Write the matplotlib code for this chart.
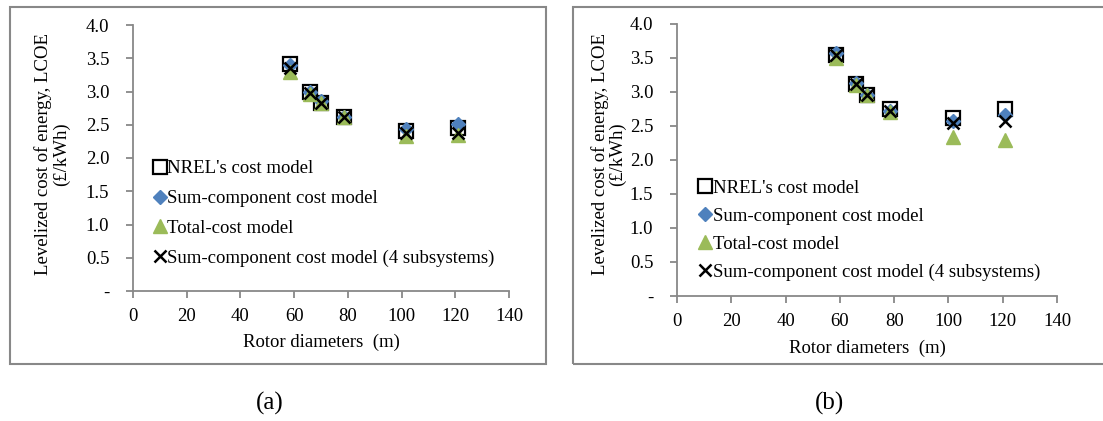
import numpy as np
import matplotlib.pyplot as plt
from matplotlib.patches import Rectangle

plt.rcParams['font.family'] = ['Liberation Serif', 'DejaVu Serif']

# rotor diameters (m)
rotor_d = [58.5, 66, 70, 78.5, 101.5, 121]

# (a) LCOE values (£/kWh)
nrel_a = [3.41, 2.99, 2.83, 2.61, 2.40, 2.45]
sumcomp_a = [3.40, 3.00, 2.85, 2.62, 2.43, 2.51]
total_a = [3.30, 2.96, 2.82, 2.62, 2.33, 2.34]
sub4_a = [3.35, 2.98, 2.83, 2.62, 2.38, 2.38]

# (b) LCOE values (£/kWh)
nrel_b = [3.55, 3.12, 2.96, 2.75, 2.62, 2.75]
sumcomp_b = [3.58, 3.13, 2.96, 2.72, 2.57, 2.66]
total_b = [3.50, 3.11, 2.95, 2.70, 2.34, 2.30]
sub4_b = [3.55, 3.12, 2.96, 2.72, 2.54, 2.57]

labels = ["NREL's cost model", "Sum-component cost model",
          "Total-cost model", "Sum-component cost model (4 subsystems)"]
xticks = [0, 20, 40, 60, 80, 100, 120, 140]
yticks = [0, 0.5, 1.0, 1.5, 2.0, 2.5, 3.0, 3.5, 4.0]
ytick_labels = ['-', '0.5', '1.0', '1.5', '2.0', '2.5', '3.0', '3.5', '4.0']

W, H = 1103, 421
fig = plt.figure(figsize=(W / 100, H / 100), dpi=100)

gray = '#888888'
fs = 13.5


def panel(rect, frame, nrel, sumcomp, total, sub4, leg_anchor, leg_space,
          ylab_xy, xlab_y, caption_x, caption):
    l, t, w, h = rect
    # panel border
    fx0, fy0, fx1, fy1 = frame
    fig.patches.append(Rectangle((fx0 / W, 1 - fy1 / H), (fx1 - fx0) / W, (fy1 - fy0) / H,
                                 transform=fig.transFigure, fill=False,
                                 edgecolor=gray, linewidth=1.5))
    ax = fig.add_axes([l / W, 1 - (t + h) / H, w / W, h / H])
    ax.plot(rotor_d, nrel, 's', ms=10.5, mfc='none', mec='black', mew=1.6, label=labels[0])
    ax.plot(rotor_d, sumcomp, 'D', ms=7.5, color='#4F81BD', label=labels[1])
    ax.plot(rotor_d, total, '^', ms=10, color='#9BBB59', label=labels[2])
    ax.plot(rotor_d, sub4, 'x', ms=9, mew=1.8, color='black', label=labels[3])
    ax.set_xlim(0, 140)
    ax.set_ylim(0, 4.0)
    ax.set_xticks(xticks)
    ax.set_yticks(yticks)
    ax.set_yticklabels(ytick_labels)
    for s in ['top', 'right']:
        ax.spines[s].set_visible(False)
    for s in ['left', 'bottom']:
        ax.spines[s].set_color(gray)
        ax.spines[s].set_linewidth(1.3)
    ax.tick_params(colors=gray, labelcolor='black', labelsize=fs, length=5, width=1.3)
    ax.tick_params(axis='x', pad=7)
    ax.tick_params(axis='y', pad=12)
    ax.set_xlabel('Rotor diameters  (m)', fontsize=fs, va='center')
    ax.xaxis.set_label_coords(0.5, xlab_y)
    ax.set_ylabel('Levelized cost of energy, LCOE\n(£/kWh)', fontsize=fs,
                  linespacing=1.0, va='center')
    ax.yaxis.set_label_coords(*ylab_xy)
    ax.legend(loc='upper left', bbox_to_anchor=leg_anchor, frameon=False, fontsize=fs,
              handlelength=0.6, handletextpad=0.1, labelspacing=leg_space, borderaxespad=0)
    fig.text(caption_x / W, 1 - 403 / H, caption, fontsize=18, ha='center', va='center')
    return ax


panel((133, 25, 376, 266), (10, 7, 546, 364), nrel_a, sumcomp_a, total_a, sub4_a,
      (0.036, 0.52), 0.68, (-0.215, 0.515), -0.192, 270, '(a)')
panel((677, 24, 380, 272), (573, 7, 1110, 364), nrel_b, sumcomp_b, total_b, sub4_b,
      (0.04, 0.455), 0.58, (-0.179, 0.522), -0.191, 830, '(b)')

fig.savefig('out.png', dpi=100)
